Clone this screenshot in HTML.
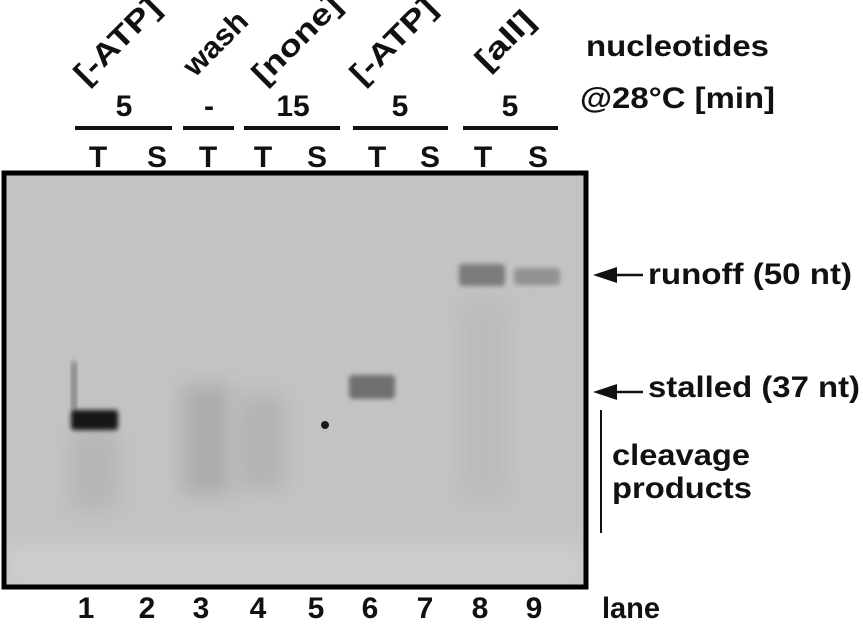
<!DOCTYPE html>
<html><head><meta charset="utf-8">
<style>
html,body{margin:0;padding:0;background:#fff;}
svg{display:block;font-family:"Liberation Sans",Arial,sans-serif;font-weight:bold;}
</style></head>
<body>
<svg width="863" height="624" viewBox="0 0 863 624">
<defs>
<filter id="b4" x="-50%" y="-50%" width="200%" height="200%"><feGaussianBlur stdDeviation="3"/></filter>
<filter id="b12" x="-50%" y="-50%" width="200%" height="200%"><feGaussianBlur stdDeviation="10"/></filter>
<filter id="b2" x="-50%" y="-50%" width="200%" height="200%"><feGaussianBlur stdDeviation="2.5"/></filter>
<clipPath id="gc"><rect x="4" y="173" width="582" height="414"/></clipPath>
</defs>

<g font-size="30" fill="#111">
<text transform="translate(86,86) rotate(-45)" textLength="108" lengthAdjust="spacingAndGlyphs">[-ATP]</text>
<text transform="translate(195,78) rotate(-45)" textLength="78" lengthAdjust="spacingAndGlyphs">wash</text>
<text transform="translate(264,86) rotate(-45)" textLength="112" lengthAdjust="spacingAndGlyphs">[none]</text>
<text transform="translate(362,86) rotate(-45)" textLength="108" lengthAdjust="spacingAndGlyphs">[-ATP]</text>
<text transform="translate(487,72) rotate(-45)" textLength="70" lengthAdjust="spacingAndGlyphs">[all]</text>
</g>
<g font-size="30" fill="#111" text-anchor="middle">
<text x="124" y="116">5</text><text x="209" y="116">-</text><text x="293" y="116">15</text><text x="400" y="116">5</text><text x="510" y="116">5</text>
</g>
<g stroke="#111" stroke-width="4">
<line x1="75" y1="128" x2="172" y2="128"/><line x1="183" y1="128" x2="234" y2="128"/><line x1="244" y1="128" x2="340" y2="128"/><line x1="353" y1="128" x2="448" y2="128"/><line x1="463" y1="128" x2="558" y2="128"/>
</g>
<g font-size="30" fill="#111" text-anchor="middle">
<text x="98" y="167">T</text><text x="157" y="167">S</text><text x="208" y="167">T</text><text x="263" y="167">T</text><text x="317" y="167">S</text><text x="377" y="167">T</text><text x="430" y="167">S</text><text x="483" y="167">T</text><text x="538" y="167">S</text>
</g>
<text x="586" y="56" font-size="30" fill="#111" textLength="183" lengthAdjust="spacingAndGlyphs">nucleotides</text>
<text x="580" y="108" font-size="30" fill="#111" textLength="195" lengthAdjust="spacingAndGlyphs">@28°C [min]</text>

<g clip-path="url(#gc)">
<rect x="4" y="173" width="582" height="414" fill="#c3c3c3"/>
<rect x="4" y="545" width="582" height="45" fill="#cdcdcd" filter="url(#b12)"/>
<rect x="70" y="430" width="48" height="80" fill="#b6b6b6" filter="url(#b12)"/>
<rect x="183" y="385" width="47" height="110" fill="#acacac" filter="url(#b12)"/>
<rect x="238" y="395" width="47" height="95" fill="#b3b3b3" filter="url(#b12)"/>
<rect x="460" y="300" width="48" height="200" fill="#bbbbbb" filter="url(#b12)"/>
<rect x="72" y="362" width="4" height="48" fill="#666" filter="url(#b4)"/>
<rect x="71" y="410" width="47" height="20" rx="3" fill="#151515" filter="url(#b2)"/>
<rect x="349" y="375" width="46" height="24" rx="4" fill="#707070" filter="url(#b2)"/>
<rect x="459" y="264" width="46" height="22" rx="4" fill="#7c7c7c" filter="url(#b2)"/>
<rect x="514" y="268" width="46" height="17" rx="4" fill="#929292" filter="url(#b2)"/>
<circle cx="325" cy="425" r="4" fill="#1a1a1a"/>
</g>
<rect x="4" y="173" width="582" height="414" fill="none" stroke="#000" stroke-width="5"/>

<g>
<line x1="605" y1="275" x2="643" y2="275" stroke="#111" stroke-width="2.5"/>
<polygon points="593,275 617,267 617,283" fill="#111"/>
<text x="648" y="284" font-size="30" fill="#111" textLength="204" lengthAdjust="spacingAndGlyphs">runoff (50 nt)</text>
</g>
<g>
<line x1="605" y1="392" x2="643" y2="392" stroke="#111" stroke-width="2.5"/>
<polygon points="593,392 617,384 617,400" fill="#111"/>
<text x="648" y="397" font-size="30" fill="#111" textLength="212" lengthAdjust="spacingAndGlyphs">stalled (37 nt)</text>
</g>
<g>
<line x1="601" y1="410" x2="601" y2="533" stroke="#111" stroke-width="2"/>
<text x="612" y="465" font-size="30" fill="#111" textLength="138" lengthAdjust="spacingAndGlyphs">cleavage</text>
<text x="612" y="498" font-size="30" fill="#111" textLength="140" lengthAdjust="spacingAndGlyphs">products</text>
</g>
<g font-size="30" fill="#111" text-anchor="middle">
<text x="86" y="618">1</text><text x="147" y="618">2</text><text x="201" y="618">3</text><text x="258" y="618">4</text><text x="316" y="618">5</text><text x="370" y="618">6</text><text x="425" y="618">7</text><text x="480" y="618">8</text><text x="534" y="618">9</text>
</g>
<text x="602" y="618" font-size="30" fill="#111" textLength="58" lengthAdjust="spacingAndGlyphs">lane</text>
</svg>
</body></html>
